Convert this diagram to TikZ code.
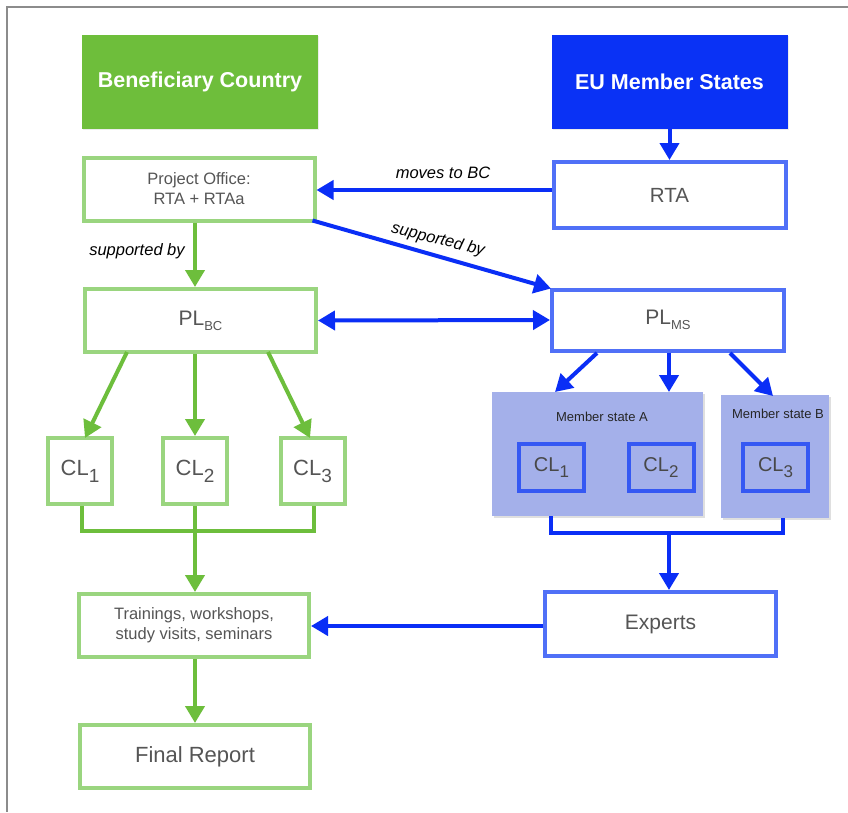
\documentclass[tikz,border=0pt]{standalone}
\usepackage{fontspec}
\setmainfont{Liberation Sans}
\usetikzlibrary{arrows.meta,calc,shadows}
\definecolor{gfill}{HTML}{6EBE3B}
\definecolor{gline}{HTML}{9AD57F}
\definecolor{garr}{HTML}{6DBE3C}
\definecolor{bfill}{HTML}{0A32F5}
\definecolor{bline}{HTML}{5070F7}
\definecolor{barr}{HTML}{0A2EF6}
\definecolor{pfill}{HTML}{A4B0EA}
\definecolor{cline}{HTML}{3558F3}
\definecolor{tgray}{HTML}{555555}
\definecolor{framegray}{HTML}{8C8C8C}
\newcommand{\lowsub}[3]{\raisebox{-#3}{\fontsize{#2}{#2}\selectfont #1}}
\begin{document}
\begin{tikzpicture}[x=1pt,y=-1pt,
  titlebox/.style={inner sep=0pt,minimum width=236pt,minimum height=94pt,text=white,font=\fontsize{21.5}{24}\selectfont\bfseries},
  gbox/.style={draw=gline,line width=4pt,fill=white,inner sep=0pt,minimum width=231pt,minimum height=63pt,text=tgray,align=center},
  bbox/.style={draw=bline,line width=4pt,fill=white,inner sep=0pt,minimum width=232pt,minimum height=64pt,text=tgray,align=center},
  gclbox/.style={draw=gline,line width=4pt,fill=white,inner sep=0pt,minimum width=64pt,minimum height=66pt,text=tgray,font=\fontsize{22}{24}\selectfont},
  panel/.style={fill=pfill,inner sep=0pt,drop shadow={opacity=0.25,shadow xshift=1.5pt,shadow yshift=-1.5pt}},
  bclbox/.style={draw=cline,line width=4pt,fill=pfill,inner sep=0pt,minimum width=65pt,minimum height=47pt,text=tgray!85!black,font=\fontsize{20}{22}\selectfont},
  paneltext/.style={text=black!85,font=\fontsize{13}{15}\selectfont,inner sep=0pt},
  lbl/.style={text=black,font=\fontsize{16.5}{19}\selectfont\itshape,inner sep=0pt},
  garrow/.style={draw=garr,line width=4pt,-{Triangle[length=17pt,width=19pt]}},
  gline/.style={draw=garr,line width=4pt},
  barrow/.style={draw=barr,line width=4pt,-{Triangle[length=17pt,width=19pt]}},
  bline/.style={draw=barr,line width=4pt},
  bdarrow/.style={draw=barr,line width=4pt,{Triangle[length=17pt,width=19pt]}-{Triangle[length=17pt,width=19pt]}}
]
\useasboundingbox (0,0) rectangle (848,812);
\fill[white] (0,0) rectangle (848,812);
\draw[framegray,line width=2pt] (848,7) -- (7,7) -- (7,812);

% titles
\node[titlebox,fill=gfill,drop shadow={opacity=0.15,shadow xshift=1pt,shadow yshift=-1pt}] (BC) at (200,82) {Beneficiary Country};
\node[titlebox,fill=bfill,drop shadow={opacity=0.15,shadow xshift=1pt,shadow yshift=-1pt}] (EU) at (669.5,82) {EU Member States};

% left column
\node[gbox,font=\fontsize{16.5}{20}\selectfont] (PO) at (199,189) {Project Office:\\RTA + RTAa};
\node[gbox,minimum height=63pt] (PLBC) at (200.5,320.5) {\fontsize{21}{24}\selectfont PL\lowsub{BC}{13}{5pt}};
\node[gclbox] (CLa) at (80,471) {CL\lowsub{1}{19}{7pt}};
\node[gclbox] (CLb) at (195,471) {CL\lowsub{2}{19}{7pt}};
\node[gclbox] (CLc) at (312.5,471) {CL\lowsub{3}{19}{7pt}};
\node[gbox,minimum width=230pt,font=\fontsize{16.5}{20}\selectfont] (TR) at (194,625.5) {Trainings, workshops,\\study visits, seminars};
\node[gbox,minimum width=230pt,font=\fontsize{22}{24}\selectfont] (FR) at (195,756.5) {Final Report};

% right column
\node[bbox,minimum height=66pt,font=\fontsize{20.5}{24}\selectfont] (RTA) at (669.5,195) {RTA};
\node[bbox,minimum height=61pt] (PLMS) at (668,320) {\fontsize{21}{24}\selectfont PL\lowsub{MS}{13}{5pt}};
\node[panel,minimum width=211pt,minimum height=124pt] (PA) at (597.5,454) {};
\node[panel,minimum width=108pt,minimum height=123pt] (PB) at (775,456.5) {};
\node[paneltext] (PAt) at (602,417) {Member state A};
\node[paneltext] (PBt) at (778,414) {Member state B};
\node[bclbox] (RCa) at (551.5,467.5) {CL\lowsub{1}{17}{6pt}};
\node[bclbox] (RCb) at (661,467.5) {CL\lowsub{2}{17}{6pt}};
\node[bclbox] (RCc) at (775.5,467.5) {CL\lowsub{3}{17}{6pt}};
\node[bbox,minimum width=231pt,font=\fontsize{21}{24}\selectfont] (EX) at (660.5,624) {Experts};

% connectors top
\draw[barrow] (EU.south) -- (RTA.north);
\draw[barrow] (RTA.west |- 0,190) -- (PO.east |- 0,190);
\node[lbl] (mv) at (443,173) {moves to BC};
\draw[garrow] (PO.south -| 195,0) -- (PLBC.north -| 195,0);
\node[lbl] (sp1) at (137,251) {supported by};
\draw[barrow] ([shift={(-4pt,2pt)}]PO.south east) -- ([shift={(1pt,-1pt)}]PLMS.north west);
\node[lbl,rotate=-14] (sp2) at (438,240) {supported by};
\draw[bdarrow] (PLBC.east) -- (PLMS.west);

% left tree
\draw[garrow] ([xshift=-73.5pt,yshift=2pt]PLBC.south) -- ([xshift=5pt,yshift=-2pt]CLa.north);
\draw[garrow] (PLBC.south -| CLb.north) -- (CLb.north);
\draw[garrow] ([xshift=67.5pt,yshift=2pt]PLBC.south) -- ([xshift=-2.5pt,yshift=-2pt]CLc.north);
\coordinate (jL) at (195,531);
\draw[gline] ([xshift=2pt]CLa.south) |- (jL) -| ([xshift=1.5pt]CLc.south);
\draw[garrow] (CLb.south) -- (CLb.south |- TR.north);
\draw[garrow] (TR.south -| 195,0) -- (FR.north -| 195,0);

% right tree
\draw[barrow] (597,353) -- (555,392);
\draw[barrow] (PLMS.south -| 669,0) -- (669,392);
\draw[barrow] (730,353) -- (773,396);
\coordinate (jR) at (669,533);
\draw[bline] (PA.south -| 551,0) |- (jR) -| (PB.south -| 783,0);
\draw[barrow] (jR) -- (jR |- EX.north);
\draw[barrow] (EX.west |- 0,626) -- (TR.east |- 0,626);
\end{tikzpicture}
\end{document}
